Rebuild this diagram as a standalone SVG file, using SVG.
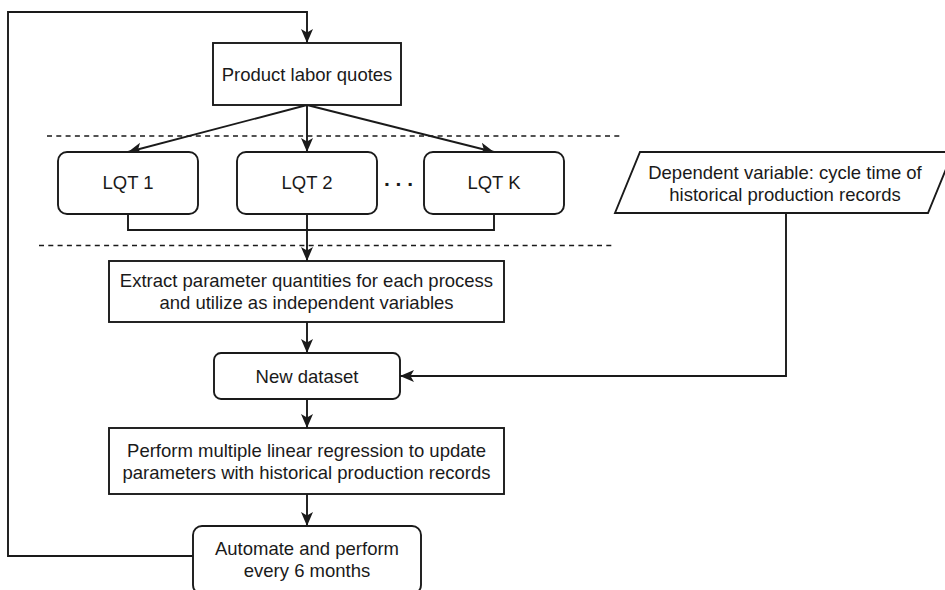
<svg xmlns="http://www.w3.org/2000/svg" width="945" height="590" viewBox="0 0 945 590">
  <style>
    .box { fill: #ffffff; stroke: #1a1a1a; stroke-width: 1.9; }
    .edge { fill: none; stroke: #1a1a1a; stroke-width: 1.9; }
    .sep { fill: none; stroke: #1a1a1a; stroke-width: 1.6; stroke-dasharray: 5 4.3; }
    text { font-family: "Liberation Sans", Arial, sans-serif; font-size: 18.5px; fill: #1a1a1a; text-anchor: middle; }
    .dots { font-weight: bold; font-size: 21px; }
  </style>
  <defs>
    <marker id="arrow" markerUnits="userSpaceOnUse" markerWidth="15" markerHeight="13" viewBox="0 0 15 13" refX="14" refY="6.5" orient="auto">
      <path d="M0,0.5 L14,6.5 L0,12.5 L3.5,6.5 Z" fill="#1a1a1a"/>
    </marker>
  </defs>

  <!-- layer separators -->
  <g id="separators">
    <line class="sep" x1="47" y1="136" x2="622" y2="136"/>
    <line class="sep" x1="39" y1="245.5" x2="613" y2="245.5"/>
  </g>

  <!-- connectors -->
  <g id="connectors">
    <path class="edge" d="M193,556 H8 V12 H307 V43" marker-end="url(#arrow)"/>
    <path class="edge" d="M307,105 L128,152" marker-end="url(#arrow)"/>
    <path class="edge" d="M307,105 V152" marker-end="url(#arrow)"/>
    <path class="edge" d="M307,105 L494,152" marker-end="url(#arrow)"/>
    <path class="edge" d="M128,214 V230 H494 V214"/>
    <path class="edge" d="M307,214 V261" marker-end="url(#arrow)"/>
    <path class="edge" d="M307,322 V353" marker-end="url(#arrow)"/>
    <path class="edge" d="M786,213 V376 H400" marker-end="url(#arrow)"/>
    <path class="edge" d="M307,399 V428" marker-end="url(#arrow)"/>
    <path class="edge" d="M307,494 V526" marker-end="url(#arrow)"/>
  </g>

  <g id="product-labor-quotes">
    <rect class="box" x="213" y="43" width="188" height="62"/>
    <text x="307" y="80.5">Product labor quotes</text>
  </g>

  <g id="lqt-1">
    <rect class="box" x="58" y="152" width="140" height="62" rx="9"/>
    <text x="128" y="189">LQT 1</text>
  </g>

  <g id="lqt-2">
    <rect class="box" x="237" y="152" width="140" height="62" rx="9"/>
    <text x="307" y="189">LQT 2</text>
  </g>

  <g id="ellipsis">
    <text class="dots" x="398.5" y="186">. . .</text>
  </g>

  <g id="lqt-k">
    <rect class="box" x="424" y="152" width="140" height="62" rx="9"/>
    <text x="494" y="189">LQT K</text>
  </g>

  <g id="dependent-variable">
    <polygon class="box" points="640,152 953,152 928,213 615,213"/>
    <text x="785" y="178.5">Dependent variable: cycle time of</text>
    <text x="785" y="201">historical production records</text>
  </g>

  <g id="extract-parameters">
    <rect class="box" x="109" y="261" width="395" height="61"/>
    <text x="306.5" y="287">Extract parameter quantities for each process</text>
    <text x="306.5" y="309">and utilize as independent variables</text>
  </g>

  <g id="new-dataset">
    <rect class="box" x="214" y="353" width="186" height="46" rx="7"/>
    <text x="307" y="382.5">New dataset</text>
  </g>

  <g id="regression">
    <rect class="box" x="109" y="428" width="395" height="66"/>
    <text x="306.5" y="456.5">Perform multiple linear regression to update</text>
    <text x="306.5" y="479">parameters with historical production records</text>
  </g>

  <g id="automate">
    <rect class="box" x="193" y="526" width="228" height="68" rx="9"/>
    <text x="307" y="555">Automate and perform</text>
    <text x="307" y="577">every 6 months</text>
  </g>
</svg>
